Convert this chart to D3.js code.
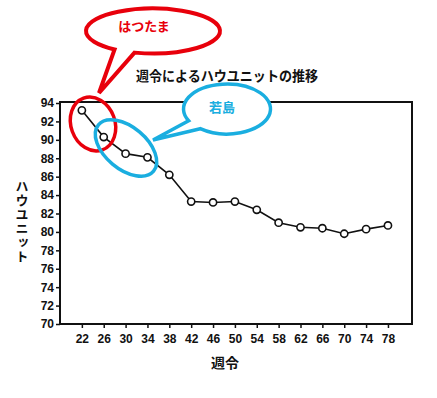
<!DOCTYPE html>
<html>
<head>
<meta charset="utf-8">
<script src="https://cdn.jsdelivr.net/npm/d3@7"></script>
<style>
  body { margin: 0; background: #fff; }
  svg text { font-family: "Noto Sans CJK JP", "Liberation Sans", sans-serif; }
</style>
</head>
<body>
<svg id="chart" width="437" height="398"></svg>
<script>
// data
var weeks = [22, 26, 30, 34, 38, 42, 46, 50, 54, 58, 62, 66, 70, 74, 78];
var haughUnit = [93.2, 90.3, 88.5, 88.1, 86.2, 83.3, 83.2, 83.3, 82.4, 81.0, 80.5, 80.4, 79.8, 80.3, 80.7];
var yTicks = [70, 72, 74, 76, 78, 80, 82, 84, 86, 88, 90, 92, 94];
var xTicks = [22, 26, 30, 34, 38, 42, 46, 50, 54, 58, 62, 66, 70, 74, 78];

var title = "週令によるハウユニットの推移";
var xLabel = "週令";
var yLabel = "ハウユニット";

var svg = d3.select("#chart");
var frame = { left: 60, right: 412, top: 102, bottom: 324 };

var x = d3.scaleLinear().domain([18, 82.4]).range([frame.left, frame.right]);
var y = d3.scaleLinear().domain([70, 94]).range([frame.bottom, 103]);

// frame
svg.append("rect")
  .attr("x", frame.left).attr("y", frame.top)
  .attr("width", frame.right - frame.left).attr("height", frame.bottom - frame.top)
  .attr("fill", "none").attr("stroke", "#111").attr("stroke-width", 2);

// axes
var yAxis = svg.append("g")
  .attr("transform", "translate(" + frame.left + ",0)")
  .call(d3.axisLeft(y).tickValues(yTicks).tickSize(4).tickPadding(2));
var xAxis = svg.append("g")
  .attr("transform", "translate(0," + frame.bottom + ")")
  .call(d3.axisBottom(x).tickValues(xTicks).tickSize(4).tickPadding(6));
[yAxis, xAxis].forEach(function(g){
  g.select(".domain").remove();
  g.selectAll(".tick line").attr("stroke", "#111").attr("stroke-width", 1.5);
  g.selectAll(".tick text")
    .attr("fill", "#111")
    .style("font-family", "'Liberation Sans', sans-serif")
    .style("font-weight", "bold")
    .style("font-size", "12px");
});

// line + markers
var line = d3.line()
  .x(function(d, i){ return x(weeks[i]); })
  .y(function(d){ return y(d); });
svg.append("path")
  .datum(haughUnit)
  .attr("d", line)
  .attr("fill", "none").attr("stroke", "#111").attr("stroke-width", 1.6);
svg.selectAll("circle.pt").data(haughUnit).enter().append("circle")
  .attr("class", "pt")
  .attr("cx", function(d, i){ return x(weeks[i]); })
  .attr("cy", function(d){ return y(d); })
  .attr("r", 3.6)
  .attr("fill", "#fff").attr("stroke", "#111").attr("stroke-width", 1.6);

// titles
svg.append("text")
  .attr("x", 227).attr("y", 81)
  .attr("text-anchor", "middle")
  .attr("font-weight", "bold").attr("font-size", 14)
  .attr("textLength", 182).attr("lengthAdjust", "spacingAndGlyphs")
  .attr("fill", "#111")
  .text(title);
svg.append("text")
  .attr("x", 225).attr("y", 368)
  .attr("text-anchor", "middle")
  .attr("font-weight", "bold").attr("font-size", 14)
  .attr("fill", "#111")
  .text(xLabel);
// vertical y label, one text element
svg.append("text")
  .attr("x", 22).attr("y", 180)
  .attr("font-weight", "bold").attr("font-size", 13)
  .style("writing-mode", "vertical-rl")
  .style("text-orientation", "upright")
  .style("letter-spacing", "1px")
  .attr("fill", "#111")
  .text(yLabel);

// callout annotations (pasted on top of the scan)
function balloon(cx, cy, rx, ry, a1, a2, tip){
  function p(a){
    var r = a * Math.PI / 180;
    return [cx + rx * Math.cos(r), cy + ry * Math.sin(r)];
  }
  var s = p(a1), e = p(a2);
  return "M" + s + "L" + tip + "L" + e +
    "A" + rx + "," + ry + " 0 1 1 " + s + "Z";
}

var red = "#e8000b", blue = "#1aaee0";

svg.append("ellipse")
  .attr("transform", "translate(93,124) rotate(-20)")
  .attr("rx", 22).attr("ry", 27.5)
  .attr("fill", "none").attr("stroke", red).attr("stroke-width", 3.5);
svg.append("ellipse")
  .attr("transform", "translate(126,148) rotate(40)")
  .attr("rx", 36).attr("ry", 21)
  .attr("fill", "none").attr("stroke", blue).attr("stroke-width", 3.5);

svg.append("path")
  .attr("d", balloon(153, 31, 67, 22.5, 106, 125, [99, 93]))
  .attr("fill", "#fff").attr("stroke", red).attr("stroke-width", 4)
  .attr("stroke-linejoin", "miter");
svg.append("text")
  .attr("x", 144).attr("y", 31)
  .attr("text-anchor", "middle")
  .attr("font-weight", "bold").attr("font-size", 13)
  .attr("fill", red)
  .text("はつたま");

svg.append("path")
  .attr("d", balloon(227, 109, 43.5, 25, 128, 152, [153, 140]))
  .attr("fill", "#fff").attr("stroke", blue).attr("stroke-width", 3.5)
  .attr("stroke-linejoin", "miter");
svg.append("text")
  .attr("x", 222).attr("y", 112)
  .attr("text-anchor", "middle")
  .attr("font-weight", "bold").attr("font-size", 13)
  .attr("fill", blue)
  .text("若島");
</script>
</body>
</html>
